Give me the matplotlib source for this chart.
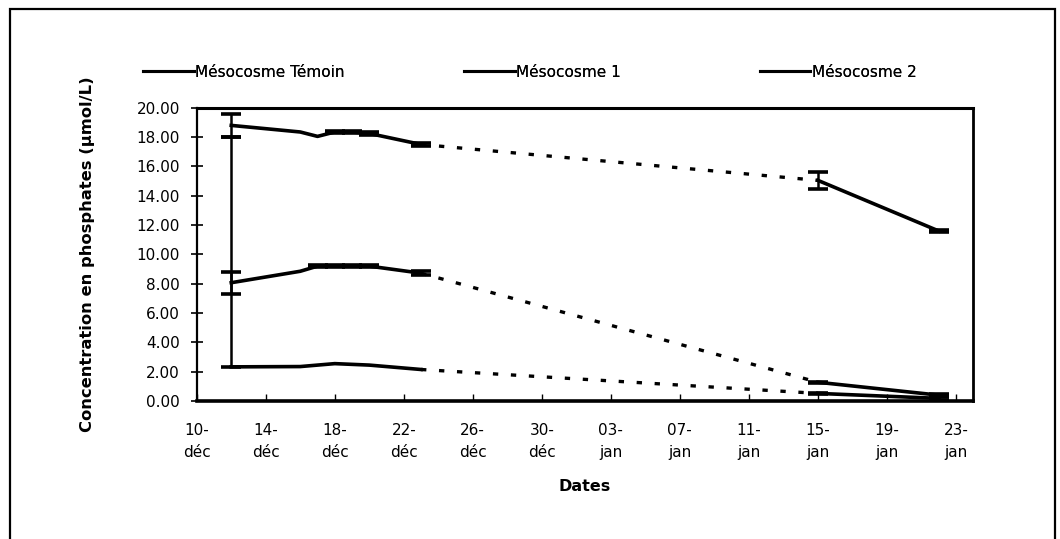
import matplotlib
matplotlib.use("Agg")
import matplotlib.pyplot as plt
import matplotlib.dates as mdates
import numpy as np
from matplotlib.lines import Line2D
from matplotlib.patches import Rectangle

plt.rcParams['font.family'] = ['DejaVu Sans']

# Sampling dates: December campaign and January campaign
dates_dec = ['1999-12-12', '1999-12-16', '1999-12-17', '1999-12-18',
             '1999-12-19', '1999-12-20', '1999-12-23']
dates_jan = ['2000-01-15', '2000-01-22']

series_names = ['Mésocosme Témoin', 'Mésocosme 1', 'Mésocosme 2']

# Phosphate concentrations (µmol/L)
temoin_dec = [18.80, 18.35, 18.05, 18.35, 18.35, 18.25, 17.50]
temoin_jan = [15.05, 11.60]
meso1_dec = [8.07, 8.85, 9.20, 9.20, 9.20, 9.20, 8.72]
meso1_jan = [1.28, 0.40]
meso2_dec = [2.33, 2.35, 2.45, 2.55, 2.50, 2.45, 2.15]
meso2_jan = [0.52, 0.18]

# Error bars (lower, upper); zero means no bar drawn
temoin_err_dec = ([0.80, 0.00, 0.00, 0.10, 0.10, 0.08, 0.12],
                  [0.80, 0.00, 0.00, 0.10, 0.10, 0.08, 0.12])
temoin_err_jan = ([0.60, 0.04], [0.60, 0.04])
meso1_err_dec = ([0.75, 0.00, 0.08, 0.08, 0.08, 0.08, 0.12],
                 [0.75, 0.00, 0.08, 0.08, 0.08, 0.08, 0.12])
meso1_err_jan = ([0.04, 0.05], [0.04, 0.05])
meso2_err_dec = ([0.00, 0.00, 0.00, 0.00, 0.00, 0.00, 0.00],
                 [15.70, 0.00, 0.00, 0.00, 0.00, 0.00, 0.00])
meso2_err_jan = ([0.03, 0.08], [0.03, 0.08])

y_ticks = [0, 2, 4, 6, 8, 10, 12, 14, 16, 18, 20]
x_tick_dates = ['1999-12-10', '1999-12-14', '1999-12-18', '1999-12-22',
                '1999-12-26', '1999-12-30', '2000-01-03', '2000-01-07',
                '2000-01-11', '2000-01-15', '2000-01-19', '2000-01-23']
x_tick_labels = ['10-\ndéc', '14-\ndéc', '18-\ndéc', '22-\ndéc', '26-\ndéc',
                 '30-\ndéc', '03-\njan', '07-\njan', '11-\njan', '15-\njan',
                 '19-\njan', '23-\njan']
x_range = ['1999-12-10', '2000-01-24']

to_num = lambda ds: mdates.date2num(np.array(ds, dtype='datetime64[D]'))

fig = plt.figure(figsize=(10.60, 5.39), dpi=100)
ax = fig.add_axes([0.1856, 0.256, 0.7325, 0.544])

xd = to_num(dates_dec)
xj = to_num(dates_jan)

groups = [
    (temoin_dec, temoin_jan, temoin_err_dec, temoin_err_jan),
    (meso1_dec, meso1_jan, meso1_err_dec, meso1_err_jan),
    (meso2_dec, meso2_jan, meso2_err_dec, meso2_err_jan),
]


def draw_segment(x, v, err):
    v = np.asarray(v)
    lo, hi = np.asarray(err[0]), np.asarray(err[1])
    ax.plot(x, v, color='black', lw=2.6, solid_joinstyle='round', zorder=3)
    keep = (lo > 0) | (hi > 0)
    if keep.any():
        ax.errorbar(x[keep], v[keep], yerr=np.vstack([lo[keep], hi[keep]]),
                    fmt='none', ecolor='black', elinewidth=1.8, capsize=7.5,
                    capthick=2.6, zorder=3)


for v_dec, v_jan, e_dec, e_jan in groups:
    # measured periods: solid lines with error bars
    draw_segment(xd, v_dec, e_dec)
    draw_segment(xj, v_jan, e_jan)
    # unsampled interval: dotted link
    ax.plot([xd[-1], xj[0]], [v_dec[-1], v_jan[0]], color='black', lw=2.4,
            linestyle=(0, (1.6, 3.8)), dash_capstyle='butt', zorder=2)

ax.set_xlim(to_num(x_range))
ax.set_ylim(0, 20)
ax.set_yticks(y_ticks)
ax.set_yticklabels([f'{v:.2f}' for v in y_ticks])
ax.set_xticks(to_num(x_tick_dates))
ax.set_xticklabels(x_tick_labels, linespacing=1.55)

ax.tick_params(axis='y', direction='inout', length=8, width=1.2,
               labelsize=11, pad=8)
ax.tick_params(axis='x', direction='in', length=5, width=1.0,
               labelsize=11, pad=16)

for side, lw in [('left', 1.6), ('bottom', 2.6), ('top', 2.2), ('right', 2.0)]:
    ax.spines[side].set_linewidth(lw)
    ax.spines[side].set_color('black')

ax.set_ylabel('Concentration en phosphates (µmol/L)', fontsize=11.8,
              fontweight='bold', labelpad=30)
ax.set_xlabel('Dates', fontsize=11.5, fontweight='bold', labelpad=14)

# Legend: three entries spread across the top
legend_x = [0.135, 0.438, 0.717]
for name, lx in zip(series_names, legend_x):
    h = Line2D([], [], color='black', lw=2.2)
    leg = fig.legend([h], [name], loc='center left',
                     bbox_to_anchor=(lx, 0.866), frameon=False,
                     handlelength=3.3, handletextpad=0.1, borderpad=0,
                     borderaxespad=0, fontsize=11)
    fig.add_artist(leg)

# Outer frame of the figure
fig.add_artist(Rectangle((10 / 1060, -0.05), 1045 / 1060, 1 - 9 / 539 + 0.05,
                         transform=fig.transFigure, fill=False,
                         edgecolor='black', lw=1.6))

fig.savefig('out.png', dpi=100)
